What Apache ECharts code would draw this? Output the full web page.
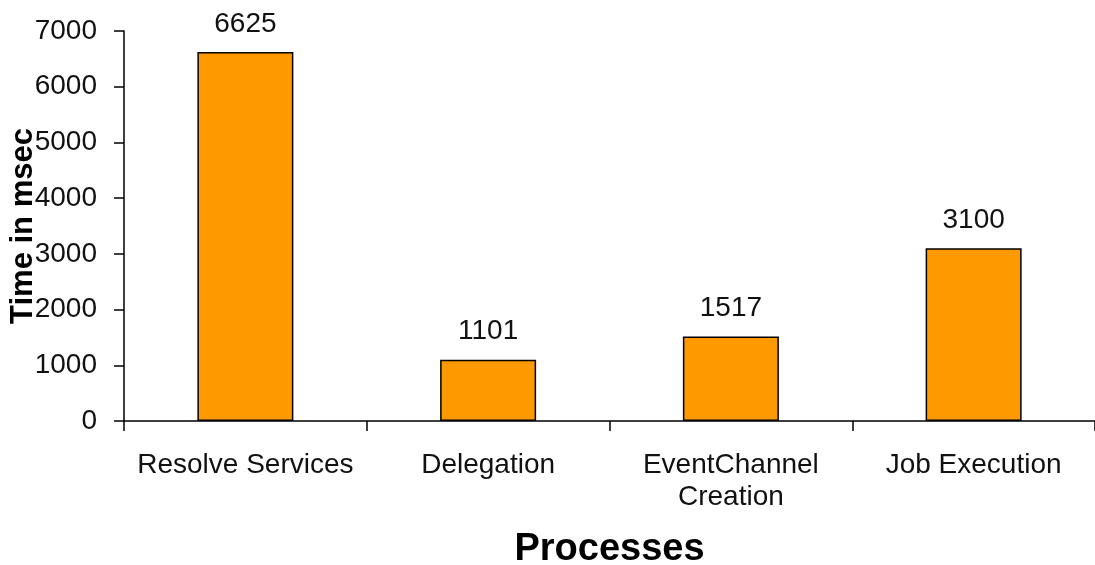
<!DOCTYPE html>
<html>
<head>
<meta charset="utf-8">
<script src="https://cdn.jsdelivr.net/npm/echarts@6/dist/echarts.min.js"></script>
<style>
html,body{margin:0;padding:0;background:#fff;}
#c{width:1095px;height:565px;}
</style>
</head>
<body>
<div id="c"></div>
<script>
const categories = ["Resolve Services", "Delegation", "EventChannel\nCreation", "Job Execution"];
const times = [6625, 1101, 1517, 3100];
const yTicks = [0, 1000, 2000, 3000, 4000, 5000, 6000, 7000];

const chart = echarts.init(document.getElementById('c'), null, {renderer: 'canvas'});
const font = '"Liberation Sans", Arial, sans-serif';
chart.setOption({
  animation: false,
  backgroundColor: '#ffffff',
  grid: {left: 124, right: 0, top: 31, bottom: 144, containLabel: false, outerBoundsMode: 'none'},
  xAxis: {
    type: 'category',
    data: categories,
    name: 'Processes',
    nameLocation: 'middle',
    nameGap: 110,
    nameMoveOverlap: false,
    nameTextStyle: {fontFamily: font, fontWeight: 'bold', fontSize: 38, color: '#000'},
    axisLine: {lineStyle: {color: '#000', width: 1.5}},
    axisTick: {show: true, length: 10, inside: false, lineStyle: {color: '#000', width: 1.5}},
    axisLabel: {fontFamily: font, fontSize: 28, color: '#111', margin: 28, lineHeight: 32, interval: 0}
  },
  yAxis: {
    type: 'value',
    min: yTicks[0],
    max: yTicks[yTicks.length - 1],
    interval: 1000,
    name: 'Time in msec',
    nameLocation: 'middle',
    nameGap: 85,
    nameMoveOverlap: false,
    nameTextStyle: {fontFamily: font, fontWeight: 'bold', fontSize: 31, color: '#000'},
    axisLine: {show: true, lineStyle: {color: '#000', width: 1.5}},
    axisTick: {show: true, length: 10, lineStyle: {color: '#000', width: 1.5}},
    splitLine: {show: false},
    axisLabel: {fontFamily: font, fontSize: 28, color: '#111', margin: 27, formatter: function (v) { return String(v); }}
  },
  series: [{
    type: 'bar',
    data: times,
    barWidth: 96,
    itemStyle: {color: '#FF9900', borderColor: '#000', borderWidth: 1.5},
    label: {show: true, position: 'top', distance: 14, fontFamily: font, fontSize: 28, color: '#111'}
  }]
});
</script>
</body>
</html>
